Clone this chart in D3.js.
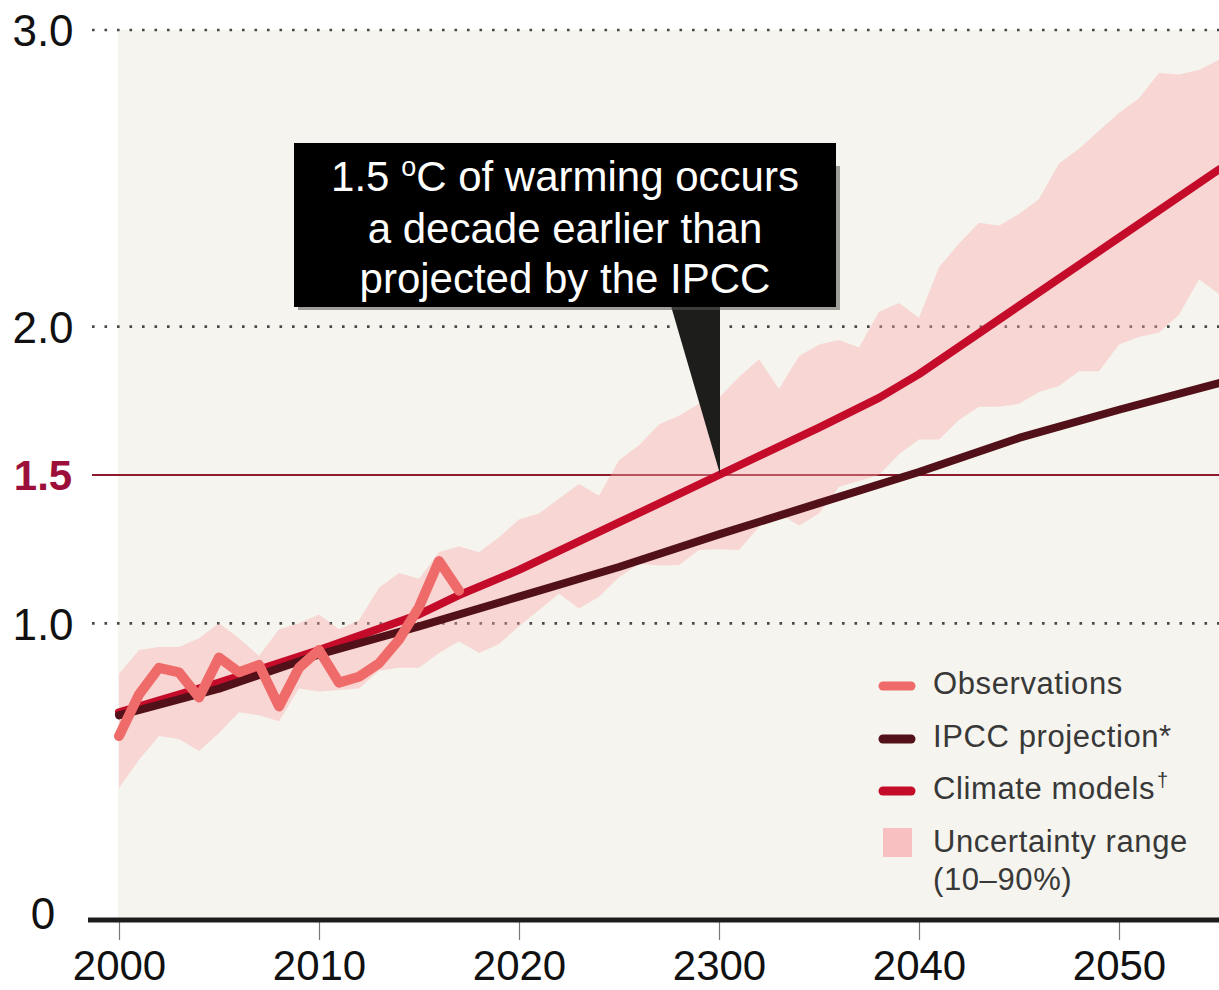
<!DOCTYPE html>
<html>
<head>
<meta charset="utf-8">
<script src="https://cdn.jsdelivr.net/npm/d3@7"></script>
<style>
  html, body { margin: 0; padding: 0; background: #ffffff; }
  svg { display: block; }
  text { font-family: "Liberation Sans", Arial, Helvetica, sans-serif; }
</style>
</head>
<body>
<svg id="chart" width="1219" height="990"></svg>
<script>
// ---- data ---------------------------------------------------------------
const xTickYears  = [2000, 2010, 2020, 2030, 2040, 2050];
const xTickLabels = ["2000", "2010", "2020", "2300", "2040", "2050"];
const yGridValues = [1.0, 2.0, 3.0];
const yTickValues = [0, 1.0, 2.0, 3.0];
const yTickLabels = ["0", "1.0", "2.0", "3.0"];
const thresholdValue = 1.5;
const thresholdLabel = "1.5";

// Observed warming (°C above pre-industrial)
const obsYears  = [2000, 2001, 2002, 2003, 2004, 2005, 2006, 2007, 2008, 2009,
                   2010, 2011, 2012, 2013, 2014, 2015, 2016, 2017];
const obsValues = [0.62, 0.76, 0.85, 0.835, 0.75, 0.885, 0.835, 0.86, 0.72, 0.85,
                   0.91, 0.80, 0.82, 0.865, 0.945, 1.055, 1.21, 1.11];

// IPCC projection
const ipccYears  = [2000, 2005, 2010, 2015, 2020, 2025, 2030, 2035, 2040, 2045, 2050, 2055];
const ipccValues = [0.69, 0.78, 0.895, 0.99, 1.09, 1.19, 1.30, 1.405, 1.51, 1.625, 1.72, 1.81];

// Climate-model mean
const modelYears  = [2000, 2005, 2010, 2015, 2017, 2020, 2025, 2030, 2035, 2038, 2040, 2045, 2050, 2055];
const modelValues = [0.70, 0.80, 0.91, 1.03, 1.095, 1.18, 1.34, 1.50, 1.66, 1.76, 1.84, 2.07, 2.30, 2.53];

// Model uncertainty range, 10th and 90th percentiles
const bandYears = [2000, 2001, 2002, 2003, 2004, 2005, 2006, 2007, 2008, 2009,
                   2010, 2011, 2012, 2013, 2014, 2015, 2016, 2017, 2018, 2019,
                   2020, 2021, 2022, 2023, 2024, 2025, 2026, 2027, 2028, 2029,
                   2030, 2031, 2032, 2033, 2034, 2035, 2036, 2037, 2038, 2039,
                   2040, 2041, 2042, 2043, 2044, 2045, 2046, 2047, 2048, 2049,
                   2050, 2051, 2052, 2053, 2054, 2055];
const bandUpper = [0.83, 0.91, 0.92, 0.92, 0.95, 1.00, 0.95, 0.89, 0.98, 1.00,
                   1.03, 0.98, 1.01, 1.12, 1.17, 1.15, 1.24, 1.26, 1.24, 1.29,
                   1.35, 1.37, 1.42, 1.47, 1.43, 1.55, 1.60, 1.67, 1.70, 1.74,
                   1.76, 1.83, 1.89, 1.79, 1.90, 1.94, 1.955, 1.93, 2.05, 2.08,
                   2.03, 2.20, 2.28, 2.35, 2.34, 2.38, 2.43, 2.55, 2.60, 2.66,
                   2.72, 2.77, 2.855, 2.85, 2.865, 2.90];
const bandLower = [0.445, 0.54, 0.62, 0.61, 0.57, 0.63, 0.70, 0.69, 0.67, 0.78,
                   0.77, 0.775, 0.78, 0.84, 0.85, 0.85, 0.90, 0.94, 0.90, 0.93,
                   0.99, 1.045, 1.10, 1.05, 1.09, 1.155, 1.20, 1.195, 1.197, 1.247,
                   1.25, 1.247, 1.325, 1.37, 1.33, 1.37, 1.46, 1.48, 1.50, 1.57,
                   1.62, 1.62, 1.685, 1.73, 1.73, 1.74, 1.78, 1.80, 1.85, 1.85,
                   1.94, 1.965, 1.98, 2.04, 2.16, 2.11];

const legendLabels = ["Observations", "IPCC projection*", "Climate models", "Uncertainty range", "(10\u201390%)"];
const legendMarks  = ["", "", "\u2020", "", ""];
const calloutLines = ["1.5 ", "a decade earlier than", "projected by the IPCC"];
const calloutYear = 2030;

// ---- colours ------------------------------------------------------------
const colObs = "#ef6b6a";
const colIpcc = "#521119";
const colModel = "#c40c2a";
const colBand = "rgb(250,170,170)";
const colPanel = "#f5f4ee";

// ---- scales -------------------------------------------------------------
const svg = d3.select("#chart");
const x = d3.scaleLinear().domain([2000, 2055]).range([119, 1219]);
const y = d3.scaleLinear().domain([0, 3]).range([920, 30]);
const gridLeft = 92;

// panel background
svg.append("rect")
  .attr("x", x(2000) - 1).attr("y", y(3))
  .attr("width", x(2055) - x(2000) + 1).attr("height", y(0) - y(3))
  .attr("fill", colPanel);

// dotted gridlines
svg.append("g").selectAll("line").data(yGridValues).join("line")
  .attr("x1", gridLeft).attr("x2", x(2055))
  .attr("y1", d => y(d)).attr("y2", d => y(d))
  .attr("stroke", "#474747").attr("stroke-width", 2.6)
  .attr("stroke-dasharray", "2.6 9.9");

// 1.5 °C threshold line
svg.append("line")
  .attr("x1", gridLeft).attr("x2", x(2055))
  .attr("y1", y(thresholdValue)).attr("y2", y(thresholdValue))
  .attr("stroke", "#8c1a2c").attr("stroke-width", 2);

// uncertainty band
const band = bandYears.map((yr, i) => ({yr, lo: bandLower[i], hi: bandUpper[i]}));
svg.append("path").datum(band)
  .attr("d", d3.area().x(d => x(d.yr)).y0(d => y(d.lo)).y1(d => y(d.hi)))
  .attr("fill", colBand).attr("fill-opacity", 0.4);

// lines
const line = d3.line().x(d => x(d[0])).y(d => y(d[1]));
function drawLine(xs, vs, colour, width) {
  svg.append("path").datum(xs.map((yr, i) => [yr, vs[i]]))
    .attr("d", line).attr("fill", "none")
    .attr("stroke", colour).attr("stroke-width", width)
    .attr("stroke-linejoin", "round").attr("stroke-linecap", "round");
}
drawLine(modelYears, modelValues, colModel, 8);
drawLine(ipccYears, ipccValues, colIpcc, 8);
drawLine(obsYears, obsValues, colObs, 10);

// x axis
const xAxis = d3.axisBottom(x)
  .tickValues(xTickYears)
  .tickSize(18)
  .tickPadding(10)
  .tickFormat((d, i) => xTickLabels[i]);
const gx = svg.append("g").attr("transform", `translate(0,${y(0) + 2})`).call(xAxis);
gx.select(".domain").remove();
gx.selectAll(".tick line").attr("stroke", "#777").attr("stroke-width", 1.2);
gx.selectAll(".tick text")
  .attr("font-size", 42).attr("fill", "#111")
  .attr("font-family", "'Liberation Sans', Arial, sans-serif");

svg.append("line")
  .attr("x1", 88).attr("x2", x(2055))
  .attr("y1", y(0)).attr("y2", y(0))
  .attr("stroke", "#1c1c1c").attr("stroke-width", 5);

// y labels
const yAxis = d3.axisLeft(y)
  .tickValues(yTickValues)
  .tickSize(0)
  .tickFormat((d, i) => yTickLabels[i]);
const gy = svg.append("g").attr("transform", "translate(43,0)").call(yAxis);
gy.select(".domain").remove();
gy.selectAll(".tick text")
  .attr("text-anchor", "middle").attr("x", 0)
  .attr("dy", (d) => d === 0 ? "0.2em" : "0.36em")
  .attr("font-size", 44).attr("fill", "#111")
  .attr("font-family", "'Liberation Sans', Arial, sans-serif");

svg.append("text")
  .attr("x", 43).attr("y", y(thresholdValue)).attr("dy", "0.36em")
  .attr("text-anchor", "middle")
  .attr("font-size", 42).attr("font-weight", "bold").attr("fill", "#9c0f3b")
  .text(thresholdLabel);

// callout pointer
const tipX = x(calloutYear), tipY = y(thresholdValue) - 1;
svg.append("path")
  .attr("d", `M${tipX - 48},306 L${tipX + 1},306 L${tipX + 1},${tipY} Z`)
  .attr("fill", "#1d1d1b");

// callout box
svg.append("rect")
  .attr("x", 298).attr("y", 166).attr("width", 542).attr("height", 144)
  .attr("fill", "#555").attr("opacity", 0.55);
svg.append("rect")
  .attr("x", 294).attr("y", 143).attr("width", 542).attr("height", 164)
  .attr("fill", "#000");

const callout = svg.append("text")
  .attr("x", 565).attr("text-anchor", "middle")
  .attr("font-size", 42).attr("fill", "#fff");
const l1 = callout.append("tspan").attr("x", 565).attr("y", 191);
l1.append("tspan").text(calloutLines[0]);
l1.append("tspan").attr("font-size", 27).attr("dy", -15).text("o");
l1.append("tspan").attr("dy", 15).text("C of warming occurs");
callout.append("tspan").attr("x", 565).attr("y", 243).text(calloutLines[1]);
callout.append("tspan").attr("x", 565).attr("y", 293).text(calloutLines[2]);

// legend
const lg = svg.append("g");
const legendLines = [
  {c: colObs, y: 686},
  {c: colIpcc, y: 739},
  {c: colModel, y: 791}
];
legendLines.forEach((d, i) => {
  lg.append("line")
    .attr("x1", 883).attr("x2", 911).attr("y1", d.y).attr("y2", d.y)
    .attr("stroke", d.c).attr("stroke-width", 9).attr("stroke-linecap", "round");
  const t = lg.append("text")
    .attr("x", 933).attr("y", d.y + 8)
    .attr("font-size", 31).attr("fill", "#383838").attr("letter-spacing", 0.6);
  t.append("tspan").text(legendLabels[i]);
  if (legendMarks[i]) {
    t.append("tspan").attr("font-size", 20).attr("dy", -12).attr("dx", 2).text(legendMarks[i]);
  }
});
lg.append("rect")
  .attr("x", 883).attr("y", 828).attr("width", 29).attr("height", 29)
  .attr("fill", "#f8c0c1");
lg.append("text")
  .attr("x", 933).attr("y", 852)
  .attr("font-size", 31).attr("fill", "#383838").attr("letter-spacing", 0.6)
  .text(legendLabels[3]);
lg.append("text")
  .attr("x", 933).attr("y", 890)
  .attr("font-size", 31).attr("fill", "#383838").attr("letter-spacing", 0.6)
  .text(legendLabels[4]);
</script>
</body>
</html>
